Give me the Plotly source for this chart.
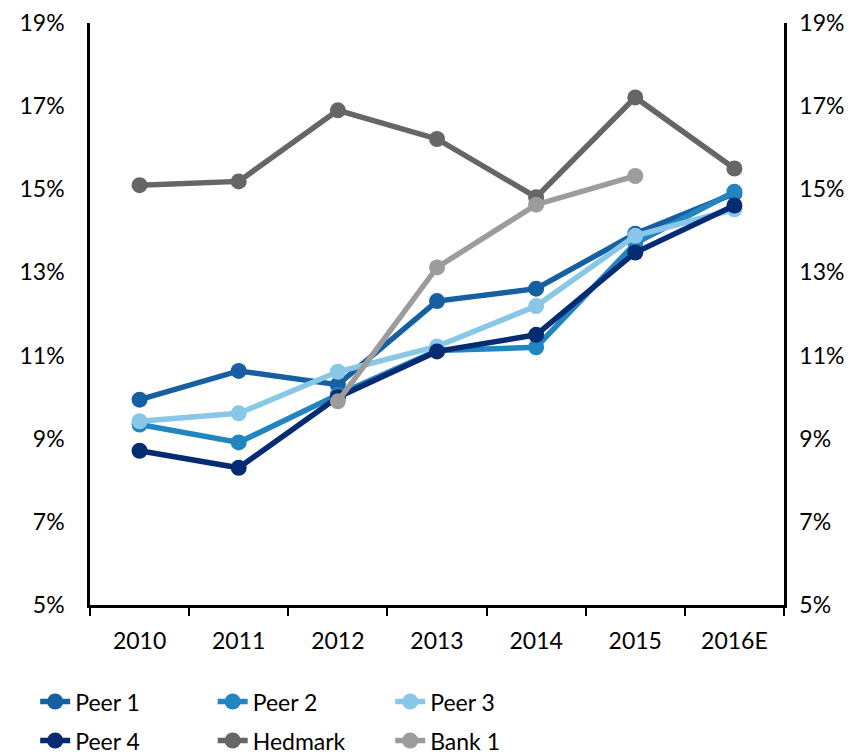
import plotly.graph_objects as go

years = ["2010", "2011", "2012", "2013", "2014", "2015", "2016E"]
peer1 = [9.94, 10.63, 10.30, 12.31, 12.61, 13.93, 14.90]
peer2 = [9.34, 8.91, 10.06, 11.12, 11.20, 13.70, 14.94]
peer3 = [9.42, 9.61, 10.61, 11.22, 12.19, 13.88, 14.52]
peer4 = [8.71, 8.30, 10.00, 11.10, 11.50, 13.48, 14.61]
hedmark = [15.10, 15.19, 16.90, 16.21, 14.81, 17.21, 15.50]
bank1_years = ["2012", "2013", "2014", "2015"]
bank1 = [9.90, 13.12, 14.63, 15.32]
y_ticks = [5, 7, 9, 11, 13, 15, 17, 19]
y_tick_text = [f"{v}%" for v in y_ticks]

FONT = "Lato"
series = [
    ("Peer 1", years, peer1, "#1660A1", "legend"),
    ("Peer 2", years, peer2, "#2285C0", "legend"),
    ("Peer 3", years, peer3, "#88C7E7", "legend"),
    ("Peer 4", years, peer4, "#052B73", "legend2"),
    ("Hedmark", years, hedmark, "#666666", "legend2"),
    ("Bank 1", bank1_years, bank1, "#9C9C9C", "legend2"),
]

fig = go.Figure()
for name, xs, ys, color, leg in series:
    fig.add_trace(go.Scatter(
        x=xs, y=ys, name=name, mode="lines+markers",
        line=dict(color=color, width=5.5),
        marker=dict(color=color, size=16),
        legend=leg,
    ))
# invisible trace to activate right axis
fig.add_trace(go.Scatter(x=years, y=[None]*len(years), yaxis="y2", showlegend=False, hoverinfo="skip"))

fig.update_layout(
    width=866, height=754,
    margin=dict(l=82, r=90, t=15, b=157, autoexpand=False),
    plot_bgcolor="white", paper_bgcolor="white",
    font=dict(family=FONT, size=23, color="black"),
    xaxis=dict(
        type="category", categoryorder="array", categoryarray=years,
        range=[-0.5, 6.5], showgrid=False, zeroline=False,
        showline=True, linecolor="black", linewidth=2.5,
        ticks="outside", tickson="boundaries", ticklen=8, tickwidth=2, tickcolor="black",
        ticklabelstandoff=14,
    ),
    yaxis=dict(
        range=[5, 19], tickvals=y_ticks, ticktext=y_tick_text,
        showgrid=False, zeroline=False,
        showline=True, linecolor="black", linewidth=2.5,
        ticks="", ticklabelstandoff=18, ticklabeloverflow="allow",
    ),
    yaxis2=dict(
        range=[5, 19], tickvals=y_ticks, ticktext=y_tick_text,
        overlaying="y", side="right", showgrid=False, zeroline=False,
        showline=True, linecolor="black", linewidth=2.5,
        ticks="", ticklabelstandoff=8, ticklabeloverflow="allow",
    ),
    legend=dict(
        orientation="h", x=-0.079, xanchor="left", y=-0.129, yanchor="top",
        entrywidth=132.5, font=dict(family=FONT, size=23), itemwidth=30,
        bgcolor="rgba(0,0,0,0)",
    ),
    legend2=dict(
        orientation="h", x=-0.079, xanchor="left", y=-0.196, yanchor="top",
        entrywidth=132.5, font=dict(family=FONT, size=23), itemwidth=30,
        bgcolor="rgba(0,0,0,0)",
    ),
    showlegend=True,
)

fig.write_html("out.html")
